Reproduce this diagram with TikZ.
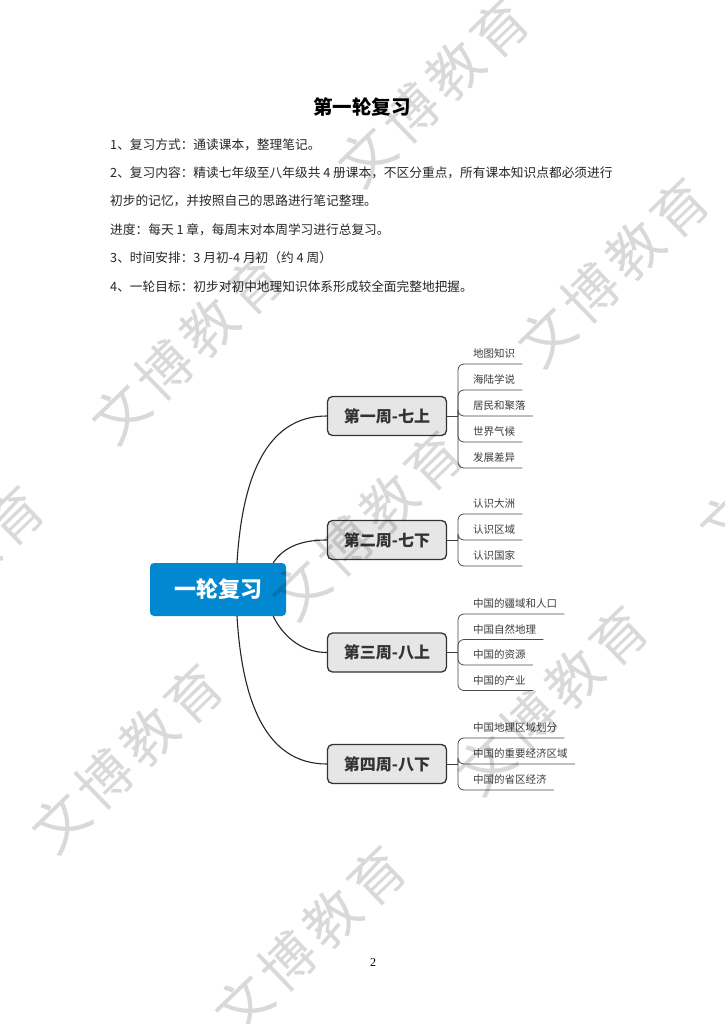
\documentclass[tikz,border=0pt]{standalone}
\usepackage{fontspec}
\setmainfont{Liberation Serif}
\newfontfamily\cjk{Noto Sans CJK SC}
\usetikzlibrary{calc}
\definecolor{mapblue}{RGB}{2,136,209}
\definecolor{weekfill}{RGB}{230,230,230}
\definecolor{weekdraw}{RGB}{51,51,51}
\definecolor{leafcol}{RGB}{60,60,60}
\newcommand\mmleaf[4]{%
  \node[leaf] (#1) at (473,#3-6.2) {#4};
  \draw[leafline] (#2) |- ($(#1.base east)+(7,6.2)$);}
\begin{document}
\begin{tikzpicture}[x=1pt,y=-1pt,
  body/.style={anchor=west, inner sep=0pt, font=\cjk\fontsize{12.7}{14}\selectfont, text=black!85},
  titlebox/.style={inner sep=0pt, font=\cjk\bfseries\fontsize{19.5}{22}\selectfont},
  root/.style={fill=mapblue, rounded corners=4pt, minimum width=136pt, minimum height=53pt, inner sep=0pt, text=white, font=\cjk\bfseries\fontsize{22}{24}\selectfont},
  week/.style={fill=weekfill, draw=weekdraw, line width=1.3pt, rounded corners=5pt, minimum width=119pt, minimum height=39pt, inner sep=0pt, text=black!80, font=\cjk\bfseries\fontsize{16}{18}\selectfont},
  leaf/.style={anchor=base west, inner sep=0pt, text=leafcol, font=\cjk\fontsize{10.5}{12}\selectfont},
  branch/.style={draw=black!85, line width=1.1pt},
  stem/.style={draw=black!75, line width=0.8pt},
  leafline/.style={draw=black!70, line width=0.8pt, rounded corners=6pt},
  wm/.style={rotate=44, inner sep=0pt, text=black, opacity=0.15, font=\cjk\addfontfeature{LetterSpace=12}\fontsize{55}{60}\selectfont}
]
\useasboundingbox (0,0) rectangle (724,1024);
\fill[white] (0,0) rectangle (724,1024);
\clip (0,0) rectangle (724,1024);

% title and text
\node[titlebox] (title) at (362,107) {第一轮复习};
\node[body] (t1) at (110,145) {1、复习方式：通读课本，整理笔记。};
\node[body] (t2) at (110,173) {2、复习内容：精读七年级至八年级共 4 册课本，不区分重点，所有课本知识点都必须进行};
\node[body] (t3) at (110,201) {初步的记忆，并按照自己的思路进行笔记整理。};
\node[body] (t4) at (110,230) {进度：每天 1 章，每周末对本周学习进行总复习。};
\node[body] (t5) at (110,258) {3、时间安排：3 月初-4 月初（约 4 周）};
\node[body] (t6) at (110,287) {4、一轮目标：初步对初中地理知识体系形成较全面完整地把握。};

% mind map
\node[root] (c) at (218,589.5) {一轮复习};
\node[week] (w1) at (387,416) {第一周-七上};
\node[week] (w2) at (387,540) {第二周-七下};
\node[week] (w3) at (387,652.5) {第三周-八上};
\node[week] (w4) at (387,764) {第四周-八下};

\draw[branch] ([xshift=19pt]c.north) .. controls (242,480) and (265,416) .. (w1.west);
\draw[branch] ([xshift=-13pt]c.north east) .. controls (285,545) and (305,540) .. (w2.west);
\draw[branch] ([xshift=-13pt]c.south east) .. controls (285,640) and (305,652.5) .. (w3.west);
\draw[branch] ([xshift=19pt]c.south) .. controls (242,700) and (265,764) .. (w4.west);

\coordinate (j1) at (458,416);
\coordinate (j2) at (458,540);
\coordinate (j3) at (458,652.5);
\coordinate (j4) at (458,764);
\draw[stem] (w1.east) -- (j1);
\draw[stem] (w2.east) -- (j2);
\draw[stem] (w3.east) -- (j3);
\draw[stem] (w4.east) -- (j4);

\mmleaf{l11}{j1}{364}{地图知识}
\mmleaf{l12}{j1}{390}{海陆学说}
\mmleaf{l13}{j1}{416}{居民和聚落}
\mmleaf{l14}{j1}{442}{世界气候}
\mmleaf{l15}{j1}{468}{发展差异}

\mmleaf{l21}{j2}{514}{认识大洲}
\mmleaf{l22}{j2}{540}{认识区域}
\mmleaf{l23}{j2}{566}{认识国家}

\mmleaf{l31}{j3}{614}{中国的疆域和人口}
\mmleaf{l32}{j3}{639.5}{中国自然地理}
\mmleaf{l33}{j3}{665}{中国的资源}
\mmleaf{l34}{j3}{690.5}{中国的产业}

\mmleaf{l41}{j4}{738}{中国地理区域划分}
\mmleaf{l42}{j4}{764}{中国的重要经济区域}
\mmleaf{l43}{j4}{790}{中国的省区经济}

% page number
\node[inner sep=0pt, font=\fontsize{12}{14}\selectfont] (pg) at (373,963) {2};

% watermarks
\node[wm] (wm1) at (433,92) {文博教育};
\node[wm] (wm2) at (187,349) {文博教育};
\node[wm] (wm3) at (613,272) {文博教育};
\node[wm] (wm4) at (367,525) {文博教育};
\node[wm] (wm5) at (127,758) {文博教育};
\node[wm] (wm6) at (552,700) {文博教育};
\node[wm] (wm7) at (310,940) {文博教育};
\node[wm] (wm8) at (-52,580) {文博教育};
\node[wm] (wm9) at (795,455) {文博教育};
\end{tikzpicture}
\end{document}
